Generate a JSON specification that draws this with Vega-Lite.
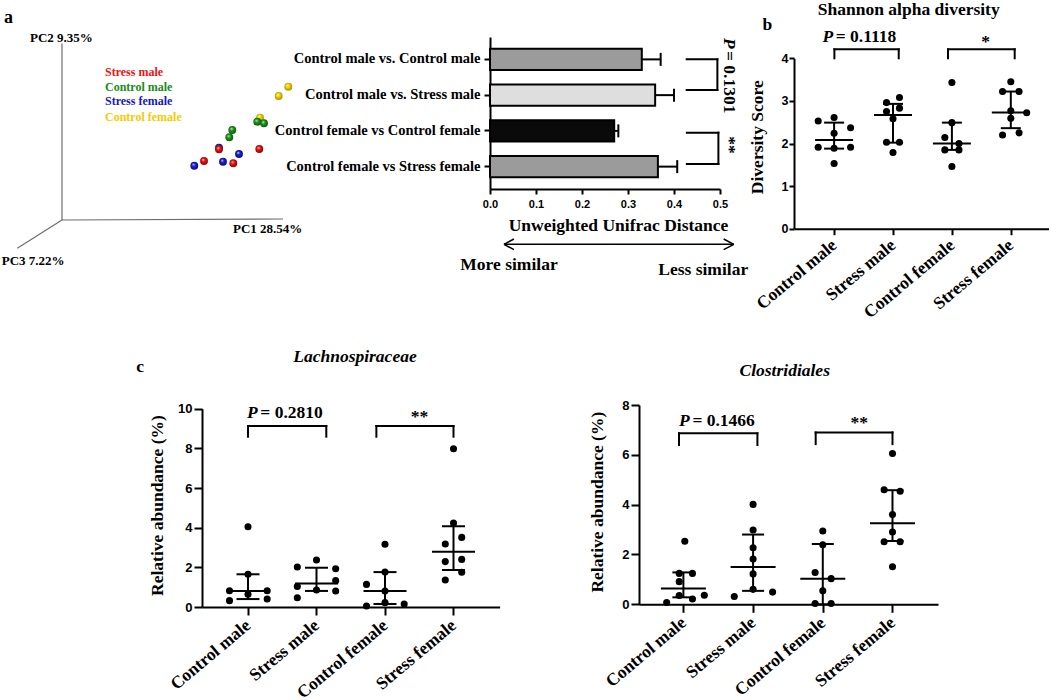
{
  "$schema": "https://vega.github.io/schema/vega-lite/v6.json",
  "padding": 0,
  "background": "white",
  "config": {
    "view": {"stroke": null},
    "font": "Liberation Serif",
    "axis": {"grid": false, "domainColor": "black", "domainWidth": 2, "tickColor": "black", "tickWidth": 2, "labelColor": "black", "titleColor": "black", "labelFont": "Liberation Sans", "labelFontWeight": "bold", "titleFont": "Liberation Serif", "titleFontWeight": "bold", "titleFontSize": 17.5, "labelFlush": false, "labelOverlap": false, "labelLimit": 400, "tickCount": 12},
    "text": {"font": "Liberation Serif", "fontWeight": "bold", "fontSize": 17.5, "color": "black"}
  },
  "resolve": {"scale": {"color": "independent"}},
  "columns": 5,
  "spacing": {"row": 0, "column": 0},
  "align": "each",
  "bounds": "flush",
  "concat": [
    {
      "width": 201.7, "height": 340,
      "layer": [
        {
          "data": {"values": [{"u": 0, "v": 0, "u2": 0, "v2": 1.765}, {"u": 0, "v": 0, "u2": 2.21, "v2": 0.01}, {"u": 0, "v": 0, "u2": -0.447, "v2": -0.283}]},
          "mark": {"type": "rule", "color": "#6e6e6e", "strokeWidth": 1.2},
          "encoding": {
            "x": {"field": "u", "type": "quantitative", "scale": {"domain": [-0.62, 4.273], "range": [0, 489.3], "nice": false, "zero": false}, "axis": null},
            "y": {"field": "v", "type": "quantitative", "scale": {"domain": [-1.2, 2.2], "nice": false, "zero": false}, "axis": null},
            "x2": {"field": "u2"}, "y2": {"field": "v2"}
          }
        },
        {
          "data": {"name": "pcoa", "values": [
            {"group": "Control female", "u": 2.263, "v": 1.333},
            {"group": "Control female", "u": 2.167, "v": 1.24},
            {"group": "Control male", "u": 1.953, "v": 0.983},
            {"group": "Control female", "u": 1.98, "v": 1.023},
            {"group": "Control male", "u": 2.02, "v": 0.967},
            {"group": "Control male", "u": 1.703, "v": 0.9},
            {"group": "Control male", "u": 1.673, "v": 0.827},
            {"group": "Stress female", "u": 1.57, "v": 0.723},
            {"group": "Stress female", "u": 1.323, "v": 0.543},
            {"group": "Stress female", "u": 1.61, "v": 0.583},
            {"group": "Stress female", "u": 1.77, "v": 0.66},
            {"group": "Stress male", "u": 1.57, "v": 0.707},
            {"group": "Stress male", "u": 1.42, "v": 0.59},
            {"group": "Stress male", "u": 1.713, "v": 0.567},
            {"group": "Stress male", "u": 1.973, "v": 0.71}
          ]},
          "layer": [
            {
              "transform": [{"filter": "datum.group == 'Control female'"}],
              "mark": {"type": "circle", "size": 62, "opacity": 1, "fill": {"gradient": "radial", "x1": 0.38, "y1": 0.32, "r1": 0, "x2": 0.5, "y2": 0.5, "r2": 0.6, "stops": [{"offset": 0, "color": "#fffbe0"}, {"offset": 0.35, "color": "#f5d400"}, {"offset": 1, "color": "#9a7f00"}]}},
              "encoding": {"x": {"field": "u", "type": "quantitative"}, "y": {"field": "v", "type": "quantitative"}}
            },
            {
              "transform": [{"filter": "datum.group == 'Control male'"}],
              "mark": {"type": "circle", "size": 62, "opacity": 1, "fill": {"gradient": "radial", "x1": 0.38, "y1": 0.32, "r1": 0, "x2": 0.5, "y2": 0.5, "r2": 0.6, "stops": [{"offset": 0, "color": "#d8f5d8"}, {"offset": 0.35, "color": "#1c9a1c"}, {"offset": 1, "color": "#0a4a0a"}]}},
              "encoding": {"x": {"field": "u", "type": "quantitative"}, "y": {"field": "v", "type": "quantitative"}}
            },
            {
              "transform": [{"filter": "datum.group == 'Stress female'"}],
              "mark": {"type": "circle", "size": 62, "opacity": 1, "fill": {"gradient": "radial", "x1": 0.38, "y1": 0.32, "r1": 0, "x2": 0.5, "y2": 0.5, "r2": 0.6, "stops": [{"offset": 0, "color": "#dcdcff"}, {"offset": 0.35, "color": "#1e1ed8"}, {"offset": 1, "color": "#08086a"}]}},
              "encoding": {"x": {"field": "u", "type": "quantitative"}, "y": {"field": "v", "type": "quantitative"}}
            },
            {
              "transform": [{"filter": "datum.group == 'Stress male'"}],
              "mark": {"type": "circle", "size": 62, "opacity": 1, "fill": {"gradient": "radial", "x1": 0.38, "y1": 0.32, "r1": 0, "x2": 0.5, "y2": 0.5, "r2": 0.6, "stops": [{"offset": 0, "color": "#ffe0e0"}, {"offset": 0.35, "color": "#f01414"}, {"offset": 1, "color": "#780000"}]}},
              "encoding": {"x": {"field": "u", "type": "quantitative"}, "y": {"field": "v", "type": "quantitative"}}
            }
          ]
        },
        {
          "data": {"values": [
            {"group": "Stress male", "u": 0.43, "v": 1.44},
            {"group": "Control male", "u": 0.43, "v": 1.29},
            {"group": "Stress female", "u": 0.43, "v": 1.15},
            {"group": "Control female", "u": 0.43, "v": 0.995}
          ]},
          "mark": {"type": "text", "align": "left", "baseline": "alphabetic", "fontSize": 12},
          "encoding": {
            "x": {"field": "u", "type": "quantitative"},
            "y": {"field": "v", "type": "quantitative"},
            "text": {"field": "group"},
            "color": {"field": "group", "type": "nominal", "scale": {"domain": ["Stress male", "Control male", "Stress female", "Control female"], "range": ["#ee1111", "#168c16", "#1616cc", "#f2cc00"]}, "legend": null}
          }
        },
        {
          "data": {"values": [
            {"t": "PC2 9.35%", "u": -0.32, "v": 1.78},
            {"t": "PC1 28.54%", "u": 1.71, "v": -0.13},
            {"t": "PC3 7.22%", "u": -0.603, "v": -0.45}
          ]},
          "mark": {"type": "text", "align": "left", "baseline": "alphabetic", "fontSize": 13},
          "encoding": {
            "x": {"field": "u", "type": "quantitative"},
            "y": {"field": "v", "type": "quantitative"},
            "text": {"field": "t"}
          }
        },
        {
          "data": {"values": [{"t": "a", "u": -0.58, "v": 1.97}]},
          "mark": {"type": "text", "align": "left", "baseline": "alphabetic", "fontSize": 18},
          "encoding": {
            "x": {"field": "u", "type": "quantitative"},
            "y": {"field": "v", "type": "quantitative"},
            "text": {"field": "t"}
          }
        }
      ]
    },
    {"width": 1, "height": 1, "data": {"values": []}, "mark": "point"},
    {
      "width": 149, "height": 189,
      "resolve": {"scale": {"y": "independent"}},
      "layer": [
        {
          "data": {"values": [
            {"cmp": "Control male vs. Control male", "mean": 0.330, "upper": 0.371},
            {"cmp": "Control male vs. Stress male", "mean": 0.359, "upper": 0.400},
            {"cmp": "Control female vs Control female", "mean": 0.270, "upper": 0.279},
            {"cmp": "Control female vs Stress female", "mean": 0.365, "upper": 0.407}
          ]},
          "layer": [
            {
              "mark": {"type": "bar", "stroke": "black", "strokeWidth": 2},
              "encoding": {
                "x": {"field": "mean", "type": "quantitative", "scale": {"domain": [0, 0.5], "range": [0, 230], "nice": false, "zero": true},
                      "axis": {"values": [0, 0.1, 0.2, 0.3, 0.4, 0.5], "tickCount": 12, "format": ".1f", "labelFontSize": 11, "tickSize": 5, "labelPadding": 4, "title": "Unweighted Unifrac Distance", "titleX": 128, "titleY": 41, "titleBaseline": "alphabetic", "titleAlign": "center"}},
                "y": {"field": "cmp", "type": "nominal", "sort": null, "scale": {"range": [37, 189], "paddingInner": 0.4, "paddingOuter": 0.326},
                      "axis": {"title": null, "labelFont": "Liberation Serif", "labelFontSize": 14.5, "tickSize": 6, "labelPadding": 4}},
                "color": {"field": "cmp", "type": "nominal", "sort": null, "scale": {"domain": ["Control male vs. Control male", "Control male vs. Stress male", "Control female vs Control female", "Control female vs Stress female"], "range": ["#9b9b9b", "#dedede", "#0a0a0a", "#9b9b9b"]}, "legend": null}
              }
            },
            {
              "mark": {"type": "rule", "strokeWidth": 2, "color": "black"},
              "encoding": {
                "x": {"field": "mean", "type": "quantitative"},
                "x2": {"field": "upper"},
                "y": {"field": "cmp", "type": "nominal", "sort": null}
              }
            },
            {
              "mark": {"type": "tick", "thickness": 2, "size": 13, "color": "black", "opacity": 1},
              "encoding": {
                "x": {"field": "upper", "type": "quantitative"},
                "y": {"field": "cmp", "type": "nominal", "sort": null}
              }
            }
          ]
        },
        {
          "layer": [
            {
              "data": {"values": [
                {"x": 0.4276, "i": 1.0, "x2": 0.4943, "i2": 1.0},
                {"x": 0.4943, "i": 1.0, "x2": 0.4943, "i2": 1.862},
                {"x": 0.4276, "i": 1.862, "x2": 0.4943, "i2": 1.862},
                {"x": 0.428, "i": 3.06, "x2": 0.4965, "i2": 3.06},
                {"x": 0.4965, "i": 3.06, "x2": 0.4965, "i2": 3.94},
                {"x": 0.428, "i": 3.94, "x2": 0.4965, "i2": 3.94}
              ]},
              "mark": {"type": "rule", "strokeWidth": 2, "color": "black", "strokeCap": "square"},
              "encoding": {
                "x": {"field": "x", "type": "quantitative"},
                "x2": {"field": "x2"},
                "y": {"field": "i", "type": "quantitative", "scale": {"domain": [1, 4], "range": [59.3, 166.1], "nice": false, "zero": false}, "axis": null},
                "y2": {"field": "i2"}
              }
            },
            {
              "data": {"values": [
                {"x": 0.0304, "i": 6.197, "x2": 0.530, "i2": 6.197},
                {"x": 0.0304, "i": 6.197, "x2": 0.052, "i2": 6.047},
                {"x": 0.0304, "i": 6.197, "x2": 0.052, "i2": 6.347},
                {"x": 0.530, "i": 6.197, "x2": 0.508, "i2": 6.047},
                {"x": 0.530, "i": 6.197, "x2": 0.508, "i2": 6.347}
              ]},
              "mark": {"type": "rule", "strokeWidth": 1.5, "color": "black"},
              "encoding": {
                "x": {"field": "x", "type": "quantitative"},
                "x2": {"field": "x2"},
                "y": {"field": "i", "type": "quantitative", "axis": null},
                "y2": {"field": "i2"}
              }
            },
            {
              "data": {"values": [{"t": "More similar", "x": 0.0413, "i": 6.92}, {"t": "Less similar", "x": 0.4635, "i": 7.06}]},
              "mark": {"type": "text", "align": "center", "baseline": "alphabetic"},
              "encoding": {
                "x": {"field": "x", "type": "quantitative"},
                "y": {"field": "i", "type": "quantitative", "axis": null},
                "text": {"field": "t"}
              }
            },
            {
              "data": {"values": [{"t": "= 0.1301", "x": 0.5196, "i": 0.767}]},
              "mark": {"type": "text", "align": "left", "baseline": "middle", "angle": 90},
              "encoding": {
                "x": {"field": "x", "type": "quantitative"},
                "y": {"field": "i", "type": "quantitative", "axis": null},
                "text": {"field": "t"}
              }
            },
            {
              "data": {"values": [{"t": "P", "x": 0.5196, "i": 0.402}]},
              "mark": {"type": "text", "align": "left", "baseline": "middle", "angle": 90, "fontStyle": "italic"},
              "encoding": {
                "x": {"field": "x", "type": "quantitative"},
                "y": {"field": "i", "type": "quantitative", "axis": null},
                "text": {"field": "t"}
              }
            },
            {
              "data": {"values": [{"t": "**", "x": 0.5196, "i": 3.41}]},
              "mark": {"type": "text", "align": "center", "baseline": "middle", "angle": 90},
              "encoding": {
                "x": {"field": "x", "type": "quantitative"},
                "y": {"field": "i", "type": "quantitative", "axis": null},
                "text": {"field": "t"}
              }
            }
          ]
        }
      ]
    },
    {"width": 1, "height": 1, "data": {"values": []}, "mark": "point"},
    {
      "width": 255, "height": 228.7,
      "layer": [
        {
          "data": {"values": [
            {"x": 0.73, "y": 2.53}, {"x": 1, "y": 2.61}, {"x": 1.28, "y": 2.37}, {"x": 1, "y": 2.24}, {"x": 0.73, "y": 1.91}, {"x": 1, "y": 1.89}, {"x": 1.28, "y": 1.91}, {"x": 1, "y": 1.53},
            {"x": 1.89, "y": 2.96}, {"x": 2.11, "y": 3.08}, {"x": 1.89, "y": 2.75}, {"x": 2.11, "y": 2.83}, {"x": 2, "y": 2.58}, {"x": 1.89, "y": 2.03}, {"x": 2.11, "y": 2.03}, {"x": 2, "y": 1.79},
            {"x": 3, "y": 3.43}, {"x": 3, "y": 2.49}, {"x": 2.88, "y": 2.14}, {"x": 3.12, "y": 2.0}, {"x": 2.88, "y": 1.85}, {"x": 3.12, "y": 1.85}, {"x": 3, "y": 1.46},
            {"x": 4, "y": 3.45}, {"x": 3.86, "y": 3.22}, {"x": 4.14, "y": 3.22}, {"x": 4, "y": 2.77}, {"x": 4.27, "y": 2.72}, {"x": 4, "y": 2.59}, {"x": 3.86, "y": 2.2}, {"x": 4.14, "y": 2.25}
          ]},
          "mark": {"type": "circle", "size": 50, "color": "black", "opacity": 1},
          "encoding": {
            "x": {"field": "x", "type": "quantitative", "scale": {"domain": [0.3192, 4.6485], "nice": false, "zero": false},
                  "axis": {"values": [1, 2, 3, 4], "tickCount": 12, "labelExpr": "datum.value == 1 ? 'Control male' : datum.value == 2 ? 'Stress male' : datum.value == 3 ? 'Control female' : 'Stress female'", "labelAngle": -40, "labelAlign": "right", "labelBaseline": "middle", "labelFont": "Liberation Serif", "labelFontSize": 17.5, "labelPadding": 8, "tickSize": 6, "title": null}},
            "y": {"field": "y", "type": "quantitative", "scale": {"domain": [0, 4], "range": [228.7, 58.3], "nice": false, "zero": false},
                  "axis": {"values": [0, 1, 2, 3, 4], "tickCount": 12, "format": "d", "labelFontSize": 12.5, "tickSize": 5, "labelPadding": 1, "title": "Diversity Score", "titleX": -31.3, "titleY": 136.7, "titleAngle": -90, "titleAlign": "center", "titleBaseline": "alphabetic"}}
          }
        },
        {
          "data": {"values": [
            {"x": 1, "y": 2.08, "lo": 1.88, "hi": 2.49},
            {"x": 2, "y": 2.67, "lo": 2.02, "hi": 2.93},
            {"x": 3, "y": 2.0, "lo": 1.85, "hi": 2.49},
            {"x": 4, "y": 2.73, "lo": 2.36, "hi": 3.22}
          ]},
          "layer": [
            {"mark": {"type": "tick", "orient": "horizontal", "size": 38, "thickness": 2, "color": "black", "opacity": 1},
             "encoding": {"x": {"field": "x", "type": "quantitative"}, "y": {"field": "y", "type": "quantitative"}}},
            {"mark": {"type": "tick", "orient": "horizontal", "size": 20, "thickness": 2, "color": "black", "opacity": 1},
             "encoding": {"x": {"field": "x", "type": "quantitative"}, "y": {"field": "lo", "type": "quantitative"}}},
            {"mark": {"type": "tick", "orient": "horizontal", "size": 20, "thickness": 2, "color": "black", "opacity": 1},
             "encoding": {"x": {"field": "x", "type": "quantitative"}, "y": {"field": "hi", "type": "quantitative"}}},
            {"mark": {"type": "rule", "strokeWidth": 2, "color": "black"},
             "encoding": {"x": {"field": "x", "type": "quantitative"}, "y": {"field": "lo", "type": "quantitative"}, "y2": {"field": "hi"}}}
          ]
        },
        {
          "data": {"values": [{"x": 1.005, "x2": 2.097, "y": 4.211, "ylo": 4.0}, {"x": 2.934, "x2": 4.066, "y": 4.211, "ylo": 4.0}]},
          "layer": [
            {"mark": {"type": "rule", "strokeWidth": 2, "color": "black", "strokeCap": "square"},
             "encoding": {"x": {"field": "x", "type": "quantitative"}, "x2": {"field": "x2"}, "y": {"field": "y", "type": "quantitative"}}},
            {"mark": {"type": "rule", "strokeWidth": 2, "color": "black", "strokeCap": "square"},
             "encoding": {"x": {"field": "x", "type": "quantitative"}, "y": {"field": "ylo", "type": "quantitative"}, "y2": {"field": "y"}}},
            {"mark": {"type": "rule", "strokeWidth": 2, "color": "black", "strokeCap": "square"},
             "encoding": {"x": {"field": "x2", "type": "quantitative"}, "y": {"field": "ylo", "type": "quantitative"}, "y2": {"field": "y"}}}
          ]
        },
        {
          "data": {"values": [{"t": "P", "x": 0.801, "y": 4.394}]},
          "mark": {"type": "text", "align": "left", "baseline": "alphabetic", "fontStyle": "italic"},
          "encoding": {"x": {"field": "x", "type": "quantitative"}, "y": {"field": "y", "type": "quantitative"}, "text": {"field": "t"}}
        },
        {
          "data": {"values": [{"t": "= 0.1118", "x": 1.027, "y": 4.394}, {"t": "b", "x": -0.217, "y": 4.653}]},
          "mark": {"type": "text", "align": "left", "baseline": "alphabetic"},
          "encoding": {"x": {"field": "x", "type": "quantitative"}, "y": {"field": "y", "type": "quantitative"}, "text": {"field": "t"}}
        },
        {
          "data": {"values": [{"t": "*", "x": 3.574, "y": 4.275}, {"t": "Shannon alpha diversity", "x": 2.267, "y": 5.02}]},
          "mark": {"type": "text", "align": "center", "baseline": "alphabetic"},
          "encoding": {"x": {"field": "x", "type": "quantitative"}, "y": {"field": "y", "type": "quantitative"}, "text": {"field": "t"}}
        }
      ]
    },
    {"width": 1, "height": 1, "data": {"values": []}, "mark": "point"},
    {
      "width": 287.6, "height": 267,
      "layer": [
        {
          "data": {"values": [
            {"x": 1, "y": 4.05}, {"x": 1, "y": 1.65}, {"x": 0.73, "y": 0.82}, {"x": 1.28, "y": 0.82}, {"x": 1, "y": 0.64}, {"x": 0.73, "y": 0.32}, {"x": 1.28, "y": 0.40},
            {"x": 2, "y": 2.37}, {"x": 1.72, "y": 2.02}, {"x": 2.28, "y": 1.93}, {"x": 2.28, "y": 1.33}, {"x": 1.72, "y": 1.04}, {"x": 2, "y": 0.86}, {"x": 2.28, "y": 0.81}, {"x": 1.72, "y": 0.47},
            {"x": 3, "y": 3.16}, {"x": 3, "y": 1.76}, {"x": 2.73, "y": 1.14}, {"x": 3, "y": 0.81}, {"x": 2.73, "y": 0.05}, {"x": 3, "y": 0.22}, {"x": 3.28, "y": 0.15},
            {"x": 4, "y": 7.98}, {"x": 4, "y": 4.24}, {"x": 4.12, "y": 3.51}, {"x": 3.88, "y": 3.18}, {"x": 4.12, "y": 2.40}, {"x": 3.88, "y": 2.29}, {"x": 4.12, "y": 1.75}, {"x": 3.88, "y": 1.36}
          ]},
          "mark": {"type": "circle", "size": 50, "color": "black", "opacity": 1},
          "encoding": {
            "x": {"field": "x", "type": "quantitative", "scale": {"domain": [0.3285, 4.673], "range": [0, 297.6], "nice": false, "zero": false},
                  "axis": {"values": [1, 2, 3, 4], "tickCount": 12, "labelExpr": "datum.value == 1 ? 'Control male' : datum.value == 2 ? 'Stress male' : datum.value == 3 ? 'Control female' : 'Stress female'", "labelAngle": -40, "labelAlign": "right", "labelBaseline": "middle", "labelFont": "Liberation Serif", "labelFontSize": 17.5, "labelPadding": 8, "tickSize": 8, "title": null}},
            "y": {"field": "y", "type": "quantitative", "scale": {"domain": [0, 10], "range": [267, 68.7], "nice": false, "zero": false},
                  "axis": {"values": [0, 2, 4, 6, 8, 10], "tickCount": 12, "format": "d", "labelFontSize": 13, "tickSize": 8, "labelPadding": 2, "title": "Relative abundance (%)", "titleX": -39.7, "titleY": 165, "titleAngle": -90, "titleAlign": "center", "titleBaseline": "alphabetic"}}
          }
        },
        {
          "data": {"values": [
            {"x": 1, "y": 0.81, "lo": 0.40, "hi": 1.65},
            {"x": 2, "y": 1.18, "lo": 0.81, "hi": 1.98},
            {"x": 3, "y": 0.81, "lo": 0.15, "hi": 1.76},
            {"x": 4, "y": 2.79, "lo": 1.87, "hi": 4.07}
          ]},
          "layer": [
            {"mark": {"type": "tick", "orient": "horizontal", "size": 43, "thickness": 2, "color": "black", "opacity": 1},
             "encoding": {"x": {"field": "x", "type": "quantitative"}, "y": {"field": "y", "type": "quantitative"}}},
            {"mark": {"type": "tick", "orient": "horizontal", "size": 23, "thickness": 2, "color": "black", "opacity": 1},
             "encoding": {"x": {"field": "x", "type": "quantitative"}, "y": {"field": "lo", "type": "quantitative"}}},
            {"mark": {"type": "tick", "orient": "horizontal", "size": 23, "thickness": 2, "color": "black", "opacity": 1},
             "encoding": {"x": {"field": "x", "type": "quantitative"}, "y": {"field": "hi", "type": "quantitative"}}},
            {"mark": {"type": "rule", "strokeWidth": 2, "color": "black"},
             "encoding": {"x": {"field": "x", "type": "quantitative"}, "y": {"field": "lo", "type": "quantitative"}, "y2": {"field": "hi"}}}
          ]
        },
        {
          "data": {"values": [{"x": 1.0, "x2": 2.143, "y": 9.128, "ylo": 8.588}, {"x": 2.874, "x2": 4.0, "y": 9.128, "ylo": 8.588}]},
          "layer": [
            {"mark": {"type": "rule", "strokeWidth": 2, "color": "black", "strokeCap": "square"},
             "encoding": {"x": {"field": "x", "type": "quantitative"}, "x2": {"field": "x2"}, "y": {"field": "y", "type": "quantitative"}}},
            {"mark": {"type": "rule", "strokeWidth": 2, "color": "black", "strokeCap": "square"},
             "encoding": {"x": {"field": "x", "type": "quantitative"}, "y": {"field": "ylo", "type": "quantitative"}, "y2": {"field": "y"}}},
            {"mark": {"type": "rule", "strokeWidth": 2, "color": "black", "strokeCap": "square"},
             "encoding": {"x": {"field": "x2", "type": "quantitative"}, "y": {"field": "ylo", "type": "quantitative"}, "y2": {"field": "y"}}}
          ]
        },
        {
          "data": {"values": [{"t": "P", "x": 0.985, "y": 9.515}, {"t": "Lachnospiraceae", "x": 1.66, "y": 12.33}]},
          "mark": {"type": "text", "align": "left", "baseline": "alphabetic", "fontStyle": "italic"},
          "encoding": {"x": {"field": "x", "type": "quantitative"}, "y": {"field": "y", "type": "quantitative"}, "text": {"field": "t"}}
        },
        {
          "data": {"values": [{"t": "= 0.2810", "x": 1.18, "y": 9.515}, {"t": "c", "x": -0.631, "y": 11.85}]},
          "mark": {"type": "text", "align": "left", "baseline": "alphabetic"},
          "encoding": {"x": {"field": "x", "type": "quantitative"}, "y": {"field": "y", "type": "quantitative"}, "text": {"field": "t"}}
        },
        {
          "data": {"values": [{"t": "**", "x": 3.505, "y": 9.32}]},
          "mark": {"type": "text", "align": "center", "baseline": "alphabetic"},
          "encoding": {"x": {"field": "x", "type": "quantitative"}, "y": {"field": "y", "type": "quantitative"}, "text": {"field": "t"}}
        }
      ]
    },
    {"width": 1, "height": 1, "data": {"values": []}, "mark": "point"},
    {
      "width": 155, "height": 264.3,
      "layer": [
        {
          "data": {"values": [
            {"x": 1.02, "y": 2.53}, {"x": 0.94, "y": 1.24}, {"x": 1.13, "y": 1.24}, {"x": 0.94, "y": 0.91}, {"x": 0.94, "y": 0.35}, {"x": 1.13, "y": 0.21}, {"x": 1.30, "y": 0.36}, {"x": 0.76, "y": 0.07},
            {"x": 2, "y": 4.01}, {"x": 2, "y": 2.98}, {"x": 2, "y": 2.27}, {"x": 2, "y": 1.82}, {"x": 2, "y": 1.22}, {"x": 2, "y": 0.60}, {"x": 1.73, "y": 0.31}, {"x": 2.28, "y": 0.49},
            {"x": 3, "y": 2.94}, {"x": 3, "y": 2.39}, {"x": 2.89, "y": 1.28}, {"x": 3.12, "y": 1.03}, {"x": 3, "y": 0.54}, {"x": 2.89, "y": 0.03}, {"x": 3.12, "y": 0.03},
            {"x": 4, "y": 6.05}, {"x": 3.88, "y": 4.60}, {"x": 4.11, "y": 4.54}, {"x": 4, "y": 3.60}, {"x": 4, "y": 2.90}, {"x": 3.88, "y": 2.51}, {"x": 4.11, "y": 2.51}, {"x": 4, "y": 1.51}
          ]},
          "mark": {"type": "circle", "size": 50, "color": "black", "opacity": 1},
          "encoding": {
            "x": {"field": "x", "type": "quantitative", "scale": {"domain": [0.363, 4.653], "range": [0, 299], "nice": false, "zero": false},
                  "axis": {"values": [1, 2, 3, 4], "tickCount": 12, "labelExpr": "datum.value == 1 ? 'Control male' : datum.value == 2 ? 'Stress male' : datum.value == 3 ? 'Control female' : 'Stress female'", "labelAngle": -40, "labelAlign": "right", "labelBaseline": "middle", "labelFont": "Liberation Serif", "labelFontSize": 17.5, "labelPadding": 8, "tickSize": 8, "title": null}},
            "y": {"field": "y", "type": "quantitative", "scale": {"domain": [0, 8], "range": [264.3, 65], "nice": false, "zero": false},
                  "axis": {"values": [0, 2, 4, 6, 8], "tickCount": 12, "format": "d", "labelFontSize": 13, "tickSize": 8, "labelPadding": 2, "title": "Relative abundance (%)", "titleX": -36.3, "titleY": 161.7, "titleAngle": -90, "titleAlign": "center", "titleBaseline": "alphabetic"}}
          }
        },
        {
          "data": {"values": [
            {"x": 1, "y": 0.63, "lo": 0.28, "hi": 1.28},
            {"x": 2, "y": 1.50, "lo": 0.54, "hi": 2.80},
            {"x": 3, "y": 1.03, "lo": 0.0, "hi": 2.42},
            {"x": 4, "y": 3.25, "lo": 2.54, "hi": 4.58}
          ]},
          "layer": [
            {"mark": {"type": "tick", "orient": "horizontal", "size": 45, "thickness": 2, "color": "black", "opacity": 1},
             "encoding": {"x": {"field": "x", "type": "quantitative"}, "y": {"field": "y", "type": "quantitative"}}},
            {"mark": {"type": "tick", "orient": "horizontal", "size": 22, "thickness": 2, "color": "black", "opacity": 1},
             "encoding": {"x": {"field": "x", "type": "quantitative"}, "y": {"field": "lo", "type": "quantitative"}}},
            {"mark": {"type": "tick", "orient": "horizontal", "size": 22, "thickness": 2, "color": "black", "opacity": 1},
             "encoding": {"x": {"field": "x", "type": "quantitative"}, "y": {"field": "hi", "type": "quantitative"}}},
            {"mark": {"type": "rule", "strokeWidth": 2, "color": "black"},
             "encoding": {"x": {"field": "x", "type": "quantitative"}, "y": {"field": "lo", "type": "quantitative"}, "y2": {"field": "hi"}}}
          ]
        },
        {
          "data": {"values": [{"x": 0.937, "x2": 2.062, "y": 6.865, "ylo": 6.395}, {"x": 2.898, "x2": 4.0, "y": 6.9, "ylo": 6.43}]},
          "layer": [
            {"mark": {"type": "rule", "strokeWidth": 2, "color": "black", "strokeCap": "square"},
             "encoding": {"x": {"field": "x", "type": "quantitative"}, "x2": {"field": "x2"}, "y": {"field": "y", "type": "quantitative"}}},
            {"mark": {"type": "rule", "strokeWidth": 2, "color": "black", "strokeCap": "square"},
             "encoding": {"x": {"field": "x", "type": "quantitative"}, "y": {"field": "ylo", "type": "quantitative"}, "y2": {"field": "y"}}},
            {"mark": {"type": "rule", "strokeWidth": 2, "color": "black", "strokeCap": "square"},
             "encoding": {"x": {"field": "x2", "type": "quantitative"}, "y": {"field": "ylo", "type": "quantitative"}, "y2": {"field": "y"}}}
          ]
        },
        {
          "data": {"values": [{"t": "P", "x": 0.937, "y": 7.157}]},
          "mark": {"type": "text", "align": "left", "baseline": "alphabetic", "fontStyle": "italic"},
          "encoding": {"x": {"field": "x", "type": "quantitative"}, "y": {"field": "y", "type": "quantitative"}, "text": {"field": "t"}}
        },
        {
          "data": {"values": [{"t": "= 0.1466", "x": 1.129, "y": 7.157}]},
          "mark": {"type": "text", "align": "left", "baseline": "alphabetic"},
          "encoding": {"x": {"field": "x", "type": "quantitative"}, "y": {"field": "y", "type": "quantitative"}, "text": {"field": "t"}}
        },
        {
          "data": {"values": [{"t": "**", "x": 3.524, "y": 7.08}]},
          "mark": {"type": "text", "align": "center", "baseline": "alphabetic"},
          "encoding": {"x": {"field": "x", "type": "quantitative"}, "y": {"field": "y", "type": "quantitative"}, "text": {"field": "t"}}
        },
        {
          "data": {"values": [{"t": "Clostridiales", "x": 2.454, "y": 9.165}]},
          "mark": {"type": "text", "align": "center", "baseline": "alphabetic", "fontStyle": "italic"},
          "encoding": {"x": {"field": "x", "type": "quantitative"}, "y": {"field": "y", "type": "quantitative"}, "text": {"field": "t"}}
        }
      ]
    }
  ]
}
